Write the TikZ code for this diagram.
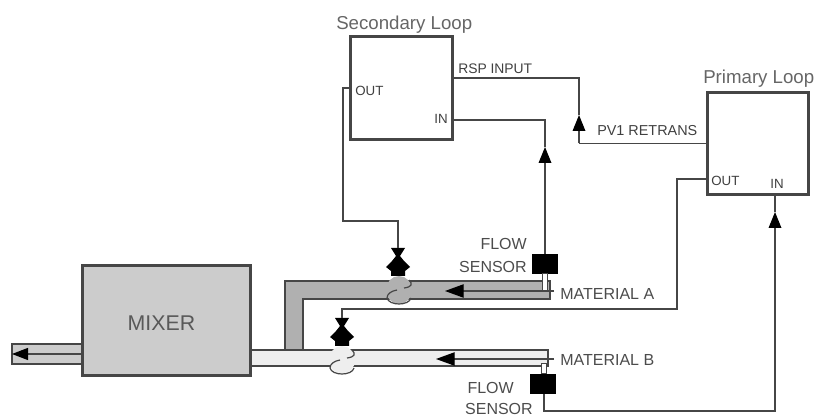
\documentclass[tikz,border=0pt]{standalone}
\usepackage{fontspec}
\setmainfont{Liberation Sans}
\usetikzlibrary{arrows.meta,positioning}
\definecolor{cMixer}{RGB}{204,204,204}
\definecolor{cPipeA}{RGB}{176,176,176}
\definecolor{cPipeB}{RGB}{238,238,238}
\definecolor{cLine}{RGB}{70,70,70}
\tikzset{
  loopbox/.style={rectangle, draw=cLine, line width=2.2pt, fill=white, minimum width=76pt, minimum height=77pt, inner sep=0pt},
  mixerbox/.style={rectangle, draw=cLine, line width=2.2pt, fill=cMixer, minimum width=126pt, minimum height=82pt, inner sep=0pt},
  sensorbox/.style={rectangle, fill=black, minimum width=19pt, minimum height=15pt, inner sep=0pt},
  sig/.style={draw=cLine, line width=0.9pt},
  sigarrow/.style={sig, -{Triangle[length=12pt, width=9.5pt, color=black]}},
  inflow/.style={sig, -{Triangle[length=14pt, width=10pt, color=black]}},
  pipe/.style={draw=cLine, line width=0.9pt},
  title/.style={font=\fontsize{14}{14}\selectfont, text=black!60, inner sep=0pt},
  port/.style={font=\fontsize{10}{10}\selectfont, text=black!75, inner sep=0pt},
  tag/.style={font=\fontsize{12}{12}\selectfont, text=black!70, inner sep=0pt},
  stem/.style={rectangle, draw=cLine, line width=0.6pt, fill=white, minimum width=3.5pt, inner sep=0pt},
  valvetop/.pic={\fill[black] (-7,0) -- (7,0) -- (2,8) -- (6,13) -- (12,19) -- (7,23) -- (7,28) -- (-7,28) -- (-7,23) -- (-12,19) -- (-6,13) -- (-2,8) -- cycle;},
  valvebody/.pic={
    \path[pic actions] (0,0) ellipse [x radius=13, y radius=14];
    \draw[sig] (10,-10) .. controls (14,-6) and (13,-3) .. (5,-2);
    \draw[sig] (-2,0) .. controls (-8,1) and (-12,4) .. (-12,8);
    \draw[sig] (-12,8) .. controls (-10,16) and (10,16) .. (12,8);
  },
}
\begin{document}
\begin{tikzpicture}[x=0.75pt, y=-0.75pt]
  \useasboundingbox (0,0) rectangle (814,416);
  % pipes
  \filldraw[pipe, fill=cMixer] (12,344) rectangle (82,364);
  \filldraw[pipe, fill=cPipeA] (285,350) -- (285,281) -- (550,281) -- (550,299) -- (303,299) -- (303,350) -- cycle;
  \filldraw[pipe, fill=cPipeB] (251,350) rectangle (548,366);
  \node[mixerbox] (mixer) at (166.5,320.5) {};
  \node[font=\fontsize{16}{16}\selectfont, text=black!65, inner sep=0pt] (mixertext) at (161.5,323) {MIXER};
  % valves
  \pic[fill=cPipeA] at (399,290) {valvebody};
  \pic[fill=cPipeB] at (342,360) {valvebody};
  \pic at (398,248) {valvetop};
  \pic at (342,318) {valvetop};
  \coordinate (valvea) at (398,248);
  \coordinate (valveb) at (342,318);
  % controllers
  \node[loopbox] (sec) at (401.5,88) {};
  \node[loopbox] (pri) at (758,143.5) {};
  \node[title, anchor=south west] (sectitle) at (336,34) {Secondary Loop};
  \node[title, anchor=south west] (prititle) at (703,88) {Primary Loop};
  \node[port, anchor=west] (secout) at (355,91) {OUT};
  \node[port, anchor=east] (secin) at (448,119) {IN};
  \node[port, anchor=west] (priout) at (711,181) {OUT};
  \node[port, anchor=center] (priin) at (777,184) {IN};
  \node[port, anchor=west] (rsp) at (458,69) {\fontsize{10.4}{10.4}\selectfont RSP INPUT};
  \node[port, anchor=west] (pvone) at (597,131) {\fontsize{10.8}{10.8}\selectfont PV1 RETRANS};
  % sensors
  \node[sensorbox] (sensora) at (545,264.5) {};
  \node[sensorbox] (sensorb) at (543,384) {};
  \node[stem, minimum height=13pt] (stema) at (545,282.5) {};
  \node[stem, minimum height=8pt] (stemb) at (544,368.5) {};
  \node[tag, anchor=east] (flowa) at (527,244) {FLOW};
  \node[tag, anchor=east] (sena) at (527,267) {SENSOR};
  \node[tag, anchor=east] (flowb) at (514,388) {FLOW};
  \node[tag, anchor=east] (senb) at (533,409) {SENSOR};
  \node[tag, anchor=west] (mata) at (560,294) {MATERIAL A};
  \node[tag, anchor=west] (matb) at (560,360) {MATERIAL B};
  % material flow
  \coordinate (enda) at (554,291);
  \coordinate (endb) at (554,359);
  \coordinate (tipa) at (445,291);
  \coordinate (tipb) at (436,359);
  \coordinate (tipout) at (12,354);
  \draw[inflow] (enda) -- (tipa);
  \draw[inflow] (endb) -- (tipb);
  \draw[sig, -{Triangle[length=12pt, width=9pt, color=black]}] (mixer.west |- tipout) -- (tipout);
  % signal lines
  \coordinate (arra) at (545,147);
  \coordinate (arrb) at (579,115);
  \coordinate (arrc) at (775,212);
  \draw[sigarrow] (sensora.north) -- (arra);
  \draw[sig] (arra) |- (sec.east |- 0,120);
  \draw[sig] (sec.east |- 0,78) -| (arrb);
  \draw[sigarrow] (arrb |- pri.west) -- (arrb);
  \draw[sig] (pri.west) -- (arrb |- pri.west);
  \draw[sig] (sec.west |- 0,88) -- (343,88) |- (398,221) -- (valvea);
  \draw[sig] (pri.west |- 0,179) -- (677,179) |- (342,309) -- (valveb);
  \coordinate (cornerb) at (544,411);
  \draw[sig] (sensorb.south -| cornerb) -- (cornerb) -| (arrc |- 0,240);
  \draw[sigarrow] (arrc |- 0,240) -- (arrc);
  \draw[sig] (arrc) -- (arrc |- pri.south);
\end{tikzpicture}
\end{document}
